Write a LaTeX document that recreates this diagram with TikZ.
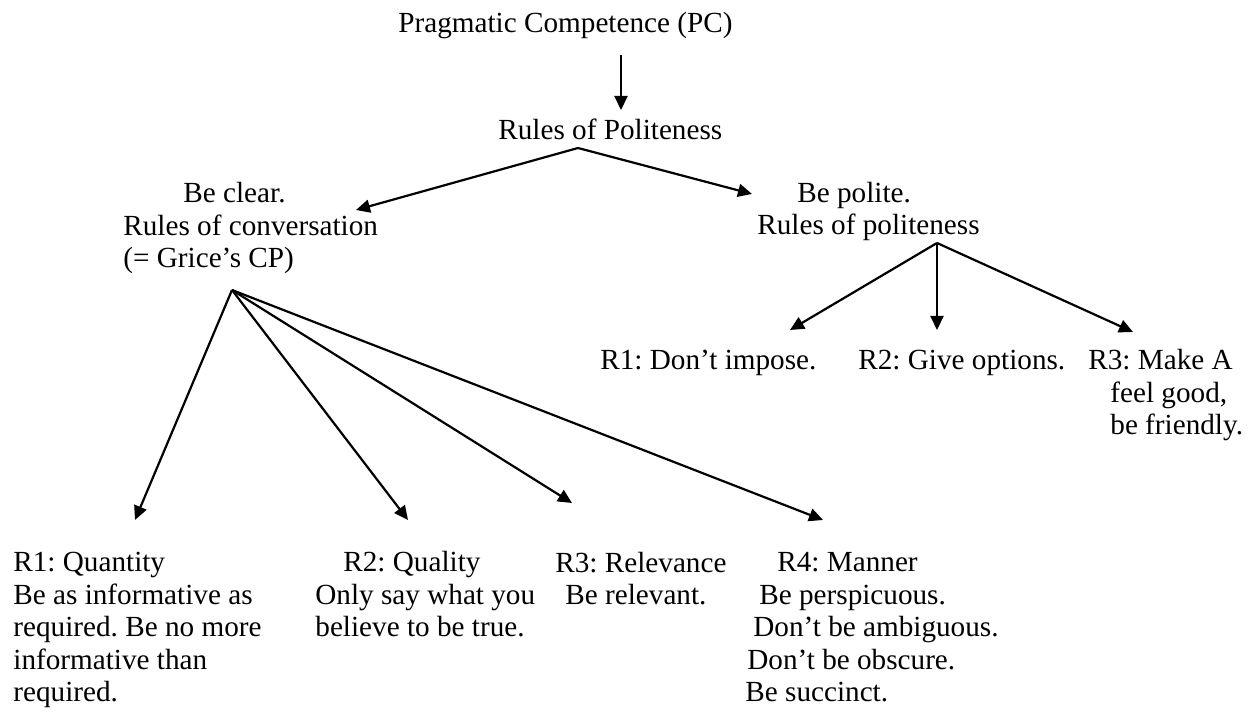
\documentclass[tikz,border=0pt]{standalone}
\usepackage{fontspec}
\setmainfont{Liberation Serif}
\usetikzlibrary{arrows.meta}
\frenchspacing

\begin{document}
\begin{tikzpicture}[
  x=0.5pt, y=-0.5pt,
  every node/.append style={font=\fontsize{14.6}{16.3}\selectfont, inner sep=0pt},
  link/.style={draw, line width=1.1pt, -{Triangle[length=7pt, width=6.5pt]}},
  textblock/.style={anchor=base west, align=left},
]
\useasboundingbox (0,0) rectangle (1259,715);

% ------------------------------------------------------------ the top
% (blocks of several lines are placed by the baseline of their last line)
\node[textblock] (pc) at (398,33) {Pragmatic Competence (PC)};
\node[textblock] (rop) at (498,140) {Rules of Politeness};
\coordinate (pc-foot) at (621,55);
\coordinate (rop-head) at (621,110);
\draw[link] (pc-foot) -- (rop-head);

% ------------------------------------------------------- the two sides
\coordinate (rop-fork) at (578,148);
\coordinate (clear-tip) at (356,210);
\coordinate (polite-tip) at (752,194);
\draw[link] (rop-fork) -- (clear-tip);
\draw[link] (rop-fork) -- (polite-tip);

\node[textblock] (clear) at (123,268)
  {\hspace*{30pt}Be clear.\\Rules of conversation\\(= Grice’s CP)};
\node[textblock] (polite) at (757,235)
  {\hspace*{20pt}Be polite.\\Rules of politeness};

% ------------------------------------------------- Grice's four maxims
\coordinate (clear-fan) at (232,290);
\foreach \n/\x/\y in {1/135/520, 2/408/520, 3/572/503, 4/823/520} {
  \coordinate (maxim\n-tip) at (\x,\y);
  \draw[link] (clear-fan) -- (maxim\n-tip);
}

\node[textblock] (quantity) at (13,702)
  {R1: Quantity\\Be as informative as\\required. Be no more\\informative than\\required.};
\node[textblock] (quality) at (315,637)
  {\hspace*{14pt}R2: Quality\\Only say what you\\believe to be true.};
\node[textblock] (relevance) at (555,605)
  {R3: Relevance\\\hspace*{5pt}Be relevant.};
\node[textblock] (manner) at (745,702)
  {\hspace*{16pt}R4: Manner\\\hspace*{7pt}Be perspicuous.\\\hspace*{4pt}Don’t be ambiguous.\\\hspace*{1pt}Don’t be obscure.\\Be succinct.};

% ------------------------------------------------ the rules of politeness
\coordinate (polite-fan) at (937,243);
\foreach \n/\x/\y in {1/790/330, 2/937/330, 3/1133/332} {
  \coordinate (polite\n-tip) at (\x,\y);
  \draw[link] (polite-fan) -- (polite\n-tip);
}

\node[textblock] (impose) at (600,370) {R1: Don’t impose.};
\node[textblock] (options) at (858,370) {R2: Give options.};
\node[textblock] (feelgood) at (1088,435)
  {R3: Make A\\\hspace*{11pt}feel good,\\\hspace*{11pt}be friendly.};

\end{tikzpicture}
\end{document}
